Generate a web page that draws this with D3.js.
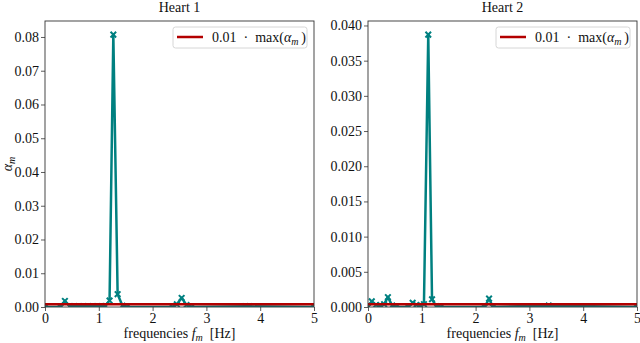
<!DOCTYPE html>
<html>
<head>
<meta charset="utf-8">
<script src="https://cdn.jsdelivr.net/npm/d3@7"></script>
<style>
  body { margin: 0; background: #fff; }
</style>
</head>
<body>
<div id="chart"></div>
<script>
// Heart 1
var freq1 = [0, 0.29, 0.37, 0.46, 0.55, 0.63, 0.72, 0.80, 0.89, 0.97, 1.06, 1.12, 1.20, 1.27, 1.35, 1.44, 1.52, 2.37, 2.45, 2.54, 2.63, 2.72, 3.72, 3.80, 5];
var alpha1 = [0, 0, 0.0018, 0.0002, 0.0002, 0.0002, 0.0002, 0.0002, 0.0002, 0.0002, 0.0002, 0.0003, 0.0019, 0.0807, 0.0038, 0.0004, 0, 0, 0.0008, 0.0027, 0.0006, 0, 0.0002, 0.0002, 0];
// Heart 2
var freq2 = [0, 0.07, 0.15, 0.22, 0.30, 0.37, 0.45, 0.52, 0.75, 0.83, 0.90, 0.97, 1.04, 1.12, 1.19, 1.27, 1.35, 2.17, 2.25, 2.32, 3.36, 5];
var alpha2 = [0, 0.0008, 0.0003, 0.0002, 0.0004, 0.0014, 0.0002, 0, 0, 0.0006, 0.0003, 0.0002, 0.0004, 0.0387, 0.0011, 0.0001, 0, 0, 0.0012, 0, 0.0002, 0];

var titles = ["Heart 1", "Heart 2"];
var yTicks1 = [0, 0.01, 0.02, 0.03, 0.04, 0.05, 0.06, 0.07, 0.08];
var yTicks2 = [0, 0.005, 0.01, 0.015, 0.02, 0.025, 0.03, 0.035, 0.04];
var xTicks = [0, 1, 2, 3, 4, 5];

var svgWidth = 640, svgHeight = 343;
var plotTop = 21, plotH = 286, plotW = 269;
var lefts = [45, 368];
var teal = "#008080", red = "#b30000";
var serif = "'Liberation Serif', 'DejaVu Serif', serif";

var svg = d3.select("#chart").append("svg")
    .attr("width", svgWidth)
    .attr("height", svgHeight)
    .attr("font-family", serif);

var panels = [
    {f: freq1, a: alpha1, ticks: yTicks1, fmt: d3.format(".2f"), title: titles[0]},
    {f: freq2, a: alpha2, ticks: yTicks2, fmt: d3.format(".3f"), title: titles[1]}
];

panels.forEach(function(p, i) {
    var data = p.f.map(function(f, j) { return {f: f, a: p.a[j]}; });
    var maxA = d3.max(p.a);
    var thresh = 0.01 * maxA;

    var xScale = d3.scaleLinear().domain([0, 5]).range([0, plotW]);
    var yScale = d3.scaleLinear().domain([0, maxA * 1.05]).range([plotH, 0]);

    var g = svg.append("g").attr("transform", `translate(${lefts[i]},${plotTop})`);

    g.append("clipPath").attr("id", "clip" + i)
        .append("rect").attr("width", plotW).attr("height", plotH);

    var plot = g.append("g").attr("clip-path", `url(#clip${i})`);

    var line = d3.line().x(d => xScale(d.f)).y(d => yScale(d.a));
    plot.append("path")
        .datum(data)
        .attr("d", line)
        .attr("fill", "none")
        .attr("stroke", teal)
        .attr("stroke-width", 2.5)
        .attr("stroke-linejoin", "round");

    // x markers
    var s = 2.8;
    plot.selectAll(".mk")
        .data(data)
        .enter()
        .append("path")
        .attr("class", "mk")
        .attr("transform", d => `translate(${xScale(d.f)},${yScale(d.a)})`)
        .attr("d", `M${-s},${-s}L${s},${s}M${-s},${s}L${s},${-s}`)
        .attr("stroke", teal)
        .attr("stroke-width", 2);

    // threshold line
    plot.append("line")
        .attr("x1", 0).attr("x2", plotW)
        .attr("y1", yScale(thresh)).attr("y2", yScale(thresh))
        .attr("stroke", red)
        .attr("stroke-width", 2.5);

    // axes
    var bottomAxis = d3.axisBottom(xScale).tickValues(xTicks).tickFormat(d3.format("d")).tickSizeOuter(0).tickSize(4);
    var leftAxis = d3.axisLeft(yScale).tickValues(p.ticks).tickFormat(p.fmt).tickSizeOuter(0).tickSize(4);

    var xAxis = g.append("g").attr("transform", `translate(0,${plotH})`).call(bottomAxis);
    var yAxis = g.append("g").call(leftAxis);
    [xAxis, yAxis].forEach(function(ax) {
        ax.attr("font-family", serif).attr("font-size", 14);
        ax.select(".domain").remove();
        ax.selectAll("line").attr("stroke", "#333").attr("stroke-width", 0.8);
        ax.selectAll("text").attr("fill", "#111");
    });
    yAxis.selectAll("text").attr("x", -6);
    xAxis.selectAll("text").attr("y", 6);

    g.append("rect")
        .attr("width", plotW).attr("height", plotH)
        .attr("fill", "none")
        .attr("stroke", "#333")
        .attr("stroke-width", 0.9);

    // title
    g.append("text")
        .attr("x", plotW / 2).attr("y", -9)
        .attr("text-anchor", "middle")
        .attr("font-size", 14)
        .attr("fill", "#111")
        .text(p.title);

    // x label
    var xl = g.append("text")
        .attr("x", plotW / 2).attr("y", plotH + 31)
        .attr("text-anchor", "middle")
        .attr("font-size", 14)
        .attr("fill", "#111");
    xl.append("tspan").text("frequencies ");
    xl.append("tspan").attr("font-style", "italic").text("f");
    xl.append("tspan").attr("dy", 3).attr("font-size", 10).attr("font-style", "italic").text("m");
    xl.append("tspan").attr("dy", -3).text("\u2002[Hz]");

    // legend
    var lg = g.append("g").attr("transform", `translate(${plotW - 141},6)`);
    lg.append("rect")
        .attr("width", 134).attr("height", 21)
        .attr("rx", 2.5)
        .attr("fill", "#fff").attr("fill-opacity", 0.8)
        .attr("stroke", "#ccc").attr("stroke-width", 0.8);
    lg.append("line")
        .attr("x1", 4).attr("x2", 30).attr("y1", 10).attr("y2", 10)
        .attr("stroke", red).attr("stroke-width", 2.5);
    var lt = lg.append("text").attr("x", 39).attr("y", 14.5).attr("font-size", 14).attr("fill", "#111");
    lt.append("tspan").text("0.01\u2002\u00b7\u2002max(");
    lt.append("tspan").attr("font-style", "italic").text("\u03b1");
    lt.append("tspan").attr("dy", 3).attr("font-size", 10).attr("font-style", "italic").text("m");
    lt.append("tspan").attr("dy", -3).text("\u2009)");

    if (i === 0) {
        var yl = g.append("text")
            .attr("transform", `translate(-33,${plotH / 2}) rotate(-90)`)
            .attr("text-anchor", "middle")
            .attr("font-size", 14)
            .attr("fill", "#111");
        yl.append("tspan").attr("font-style", "italic").text("\u03b1");
        yl.append("tspan").attr("dy", 3).attr("font-size", 10).attr("font-style", "italic").text("m");
    }
});
</script>
</body>
</html>
